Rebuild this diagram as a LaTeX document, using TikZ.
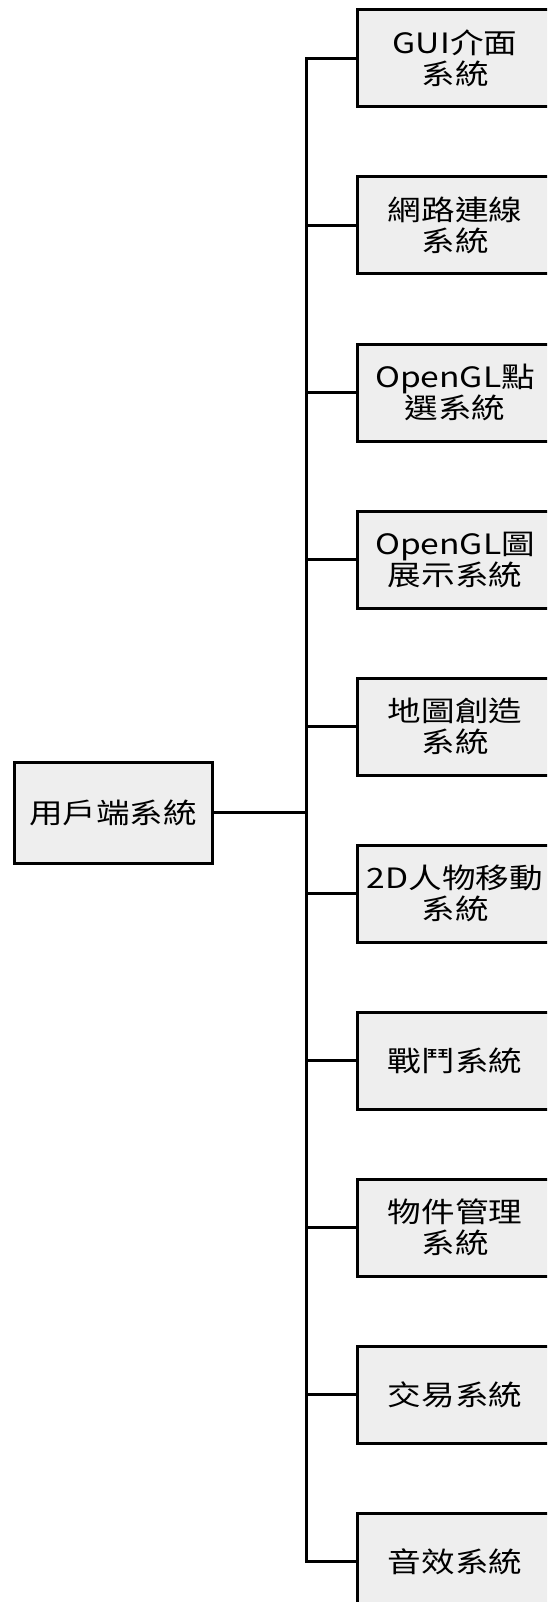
\documentclass[tikz,border=0pt]{standalone}
\usepackage{fontspec}
\newfontfamily\cjk[FakeStretch=1.2]{Noto Sans CJK TC}
\definecolor{boxfill}{RGB}{238,238,238}
\tikzset{
  sysbox/.style={draw=black, line width=3pt, fill=boxfill, minimum width=196pt, minimum height=97pt,
    align=center, inner sep=0pt, font=\cjk\fontsize{28}{31}\selectfont},
  mainbox/.style={sysbox, minimum width=198pt, minimum height=101pt},
  conn/.style={line width=3pt, draw=black}
}
\begin{document}
\begin{tikzpicture}[x=1pt, y=-1pt]
\useasboundingbox (0,0) rectangle (547,1602);
\fill[white] (0,0) rectangle (547,1602);
\clip (0,0) rectangle (547,1602);
\node[mainbox] (main) at (113,812.5) {用戶端系統};
\node[sysbox] (b1) at (455,58.5) {GUI介面\\系統};
\node[sysbox] (b2) at (455,225.5) {網路連線\\系統};
\node[sysbox] (b3) at (455,392.5) {OpenGL點\\選系統};
\node[sysbox] (b4) at (455,559.5) {OpenGL圖\\展示系統};
\node[sysbox] (b5) at (455,726.5) {地圖創造\\系統};
\node[sysbox] (b6) at (455,893.5) {2D人物移動\\系統};
\node[sysbox] (b7) at (455,1060.5) {戰鬥系統};
\node[sysbox] (b8) at (455,1227.5) {物件管理\\系統};
\node[sysbox] (b9) at (455,1394.5) {交易系統};
\node[sysbox] (b10) at (455,1561.5) {音效系統};
\coordinate (tm) at (306,812.5);
\foreach \i in {1,...,10} {
  \coordinate (t\i) at (tm |- b\i.west);
  \draw[conn] (t\i) -- (b\i.west);
}
\draw[conn] (main.east) -- (tm);
\draw[conn, line cap=rect] (t1) -- (t10);
\end{tikzpicture}
\end{document}
